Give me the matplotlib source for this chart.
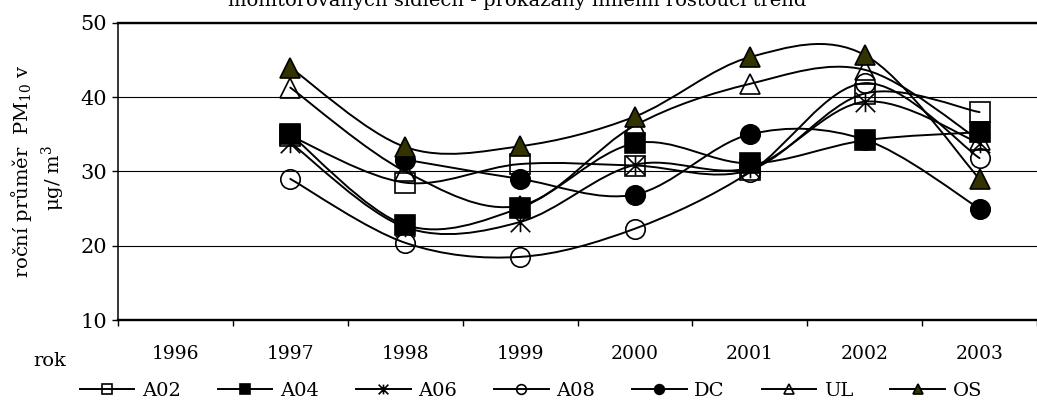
import numpy as np
import matplotlib
matplotlib.use("Agg")
import matplotlib.pyplot as plt
from matplotlib.path import Path
from matplotlib.patches import PathPatch
from matplotlib.lines import Line2D

plt.rcParams["font.family"] = ["DejaVu Serif"]
plt.rcParams["mathtext.default"] = "regular"

nan = np.nan

# Categories (years) and annual PM10 means per monitoring station
years = ["1996", "1997", "1998", "1999", "2000", "2001", "2002", "2003"]
a02 = [nan, 34.8, 28.5, 31.0, 30.8, 30.2, 40.5, 38.0]
a04 = [nan, 35.0, 22.8, 25.1, 33.8, 31.1, 34.2, 35.3]
a06 = [nan, 33.9, 22.5, 23.2, 30.9, 30.5, 39.4, 33.8]
a08 = [nan, 29.0, 20.4, 18.5, 22.3, 29.9, 41.9, 31.8]
dc = [nan, nan, 31.6, 29.0, 26.9, 35.0, 34.3, 25.0]
ul = [nan, 41.3, 30.0, 25.4, 36.2, 41.8, 43.7, 34.2]
os_ = [nan, 44.0, 33.3, 33.4, 37.4, 45.4, 45.7, 29.0]

names = ["A02", "A04", "A06", "A08", "DC", "UL", "OS"]
values = [a02, a04, a06, a08, dc, ul, os_]

# asterisk marker: vertical stroke crossed by an X
star = Path(
    [(0, -1), (0, 1), (-1, -1), (1, 1), (-1, 1), (1, -1)],
    [Path.MOVETO, Path.LINETO, Path.MOVETO, Path.LINETO, Path.MOVETO, Path.LINETO],
)

olive = "#333300"
styles = [
    dict(marker="s", mfc="none", mec="black"),
    dict(marker="s", mfc="black", mec="black"),
    dict(marker=star, mfc="none", mec="black"),
    dict(marker="o", mfc="none", mec="black"),
    dict(marker="o", mfc="black", mec="black"),
    dict(marker="^", mfc="none", mec="black"),
    dict(marker="^", mfc=olive, mec="black"),
]


def smooth_path(xs, ys):
    """Cubic Bezier through the points (Catmull-Rom style smoothing)."""
    pts = np.array([(x, y) for x, y in zip(xs, ys) if not np.isnan(y)], float)
    verts = [pts[0]]
    codes = [Path.MOVETO]
    n = len(pts)
    for i in range(n - 1):
        p0 = pts[i - 1] if i > 0 else pts[i]
        p1 = pts[i]
        p2 = pts[i + 1]
        p3 = pts[i + 2] if i + 2 < n else pts[i + 1]
        c1 = p1 + (p2 - p0) / 6.0
        c2 = p2 - (p3 - p1) / 6.0
        verts += [c1, c2, p2]
        codes += [Path.CURVE4] * 3
    return Path(verts, codes)


W, H = 1037, 409
fig = plt.figure(figsize=(W / 100, H / 100), dpi=100)
ax = fig.add_axes([118 / W, 89 / H, 919 / W, 297 / H])

x = np.arange(len(years))
for k, (name, vals, st) in enumerate(zip(names, values, styles)):
    z = 3 + k
    patch = PathPatch(smooth_path(x, vals), facecolor="none", edgecolor="black",
                      lw=1.4, zorder=z, capstyle="round", joinstyle="round")
    ax.add_patch(patch)
    ax.plot(x, vals, linestyle="none", marker=st["marker"], markersize=14,
            markerfacecolor=st["mfc"], markeredgecolor=st["mec"],
            markeredgewidth=1.2, zorder=z + 0.5, clip_on=False)

ax.set_xlim(-0.5, len(years) - 0.5)
ax.set_ylim(10, 50)
ax.set_yticks([10, 20, 30, 40, 50])
ax.yaxis.grid(True, color="black", lw=0.8)
ax.set_axisbelow(True)

ax.set_xticks(x)
ax.set_xticklabels(years, fontsize=13.5)
ax.set_xticks(np.arange(-0.5, len(years)), minor=True)
ax.tick_params(axis="x", which="major", length=0, pad=18)
ax.tick_params(axis="x", which="minor", length=4.5, width=1, direction="out")
ax.tick_params(axis="y", length=4, width=1, direction="out", labelsize=15, pad=4)

ax.spines["right"].set_visible(False)
ax.spines["top"].set_linewidth(1.7)
ax.spines["bottom"].set_linewidth(1.7)
ax.spines["left"].set_linewidth(1.1)

# y-axis title in two rotated lines
fig.text(22 / W, 1 - 171 / H, "roční průměr  PM$_{10}$ v", rotation=90,
         ha="center", va="center", fontsize=14)
fig.text(53 / W, 1 - 178 / H, "μg/ m$^{3}$", rotation=90,
         ha="center", va="center", fontsize=14)

fig.text(33 / W, 1 - 366 / H, "rok", ha="left", va="baseline", fontsize=14)

fig.text(517 / W, 1 - 6 / H,
         "monitorovaných sídlech - prokázány liniemi rostoucí trend",
         ha="center", va="baseline", fontsize=14)

handles = [
    Line2D([], [], color="black", lw=1.4, marker=st["marker"], markersize=7,
           markerfacecolor=st["mfc"], markeredgecolor=st["mec"], markeredgewidth=1.2)
    for st in styles
]
fig.legend(handles, names, ncol=7, loc="center", bbox_to_anchor=(531 / W, 18 / H),
           frameon=False, fontsize=14, handlelength=2.8, handletextpad=0.4,
           columnspacing=1.9, borderpad=0, borderaxespad=0)

fig.savefig("out.png", dpi=100)
